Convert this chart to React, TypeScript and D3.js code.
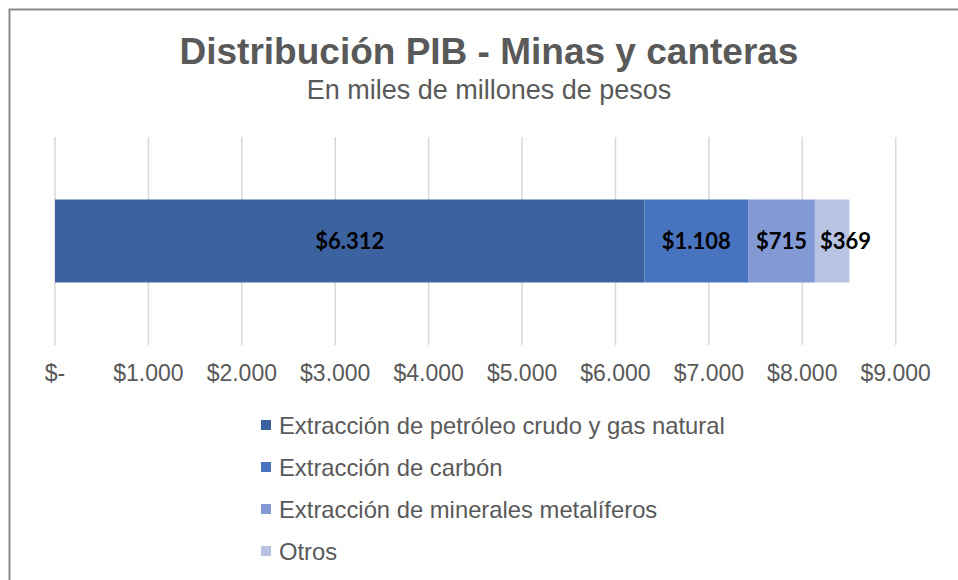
import React from "react";
import * as d3 from "d3";

const title = "Distribución PIB - Minas y canteras";
const subtitle = "En miles de millones de pesos";
const categories = [
  "Extracción de petróleo crudo y gas natural",
  "Extracción de carbón",
  "Extracción de minerales metalíferos",
  "Otros",
];
const values = [6312, 1108, 715, 369];
const colors = ["#3C62A0", "#4874BF", "#8299D3", "#B8C3E4"];
const ticks = [0, 1000, 2000, 3000, 4000, 5000, 6000, 7000, 8000, 9000];

const W = 958;
const H = 580;

const fmtNum = (v: number) => d3.format(",")(v).replace(/,/g, ".");
const tickFmt = (v: number) => (v === 0 ? "$-" : "$" + fmtNum(v));

export default function App() {
  const x = d3.scaleLinear().domain([0, 9000]).range([55, 895.7]);
  const y = d3.scaleBand().domain(["PIB"]).range([137, 345]).paddingInner(0).paddingOuter(0.753);
  const bandY = y("PIB") as number;
  const bh = y.bandwidth();
  const stacks: { start: number; end: number; v: number; c: string }[] = [];
  let acc = 0;
  values.forEach((v, i) => {
    stacks.push({ start: acc, end: acc + v, v, c: colors[i] });
    acc += v;
  });
  const labelFont = "Lato, 'Open Sans', sans-serif";
  return (
    <svg
      width={W}
      height={H}
      style={{ position: "absolute", left: 0, top: 0, background: "#fff" }}
      fontFamily="'Liberation Sans', Arial, sans-serif"
    >
      <rect x={0} y={0} width={W} height={H} fill="#fff" />
      <path d={`M9.5,${H} L9.5,9.5 L${W},9.5`} fill="none" stroke="#8a8a8a" strokeWidth={2} />
      <text x={489} y={64} textAnchor="middle" fontSize={37} fontWeight="bold" fill="#595959">
        {title}
      </text>
      <text x={489} y={99} textAnchor="middle" fontSize={27} fill="#595959">
        {subtitle}
      </text>
      {ticks.map((t) => (
        <line key={"g" + t} x1={x(t)} x2={x(t)} y1={137} y2={345} stroke="#d9d9d9" strokeWidth={1.5} />
      ))}
      {stacks.map((s, i) => (
        <rect key={"b" + i} x={x(s.start)} y={bandY} width={x(s.end) - x(s.start)} height={bh} fill={s.c} />
      ))}
      {stacks.map((s, i) => {
        const segW = x(s.end) - x(s.start);
        const label = "$" + fmtNum(s.v);
        const estW = label.length * 12;
        const fits = estW + 6 < segW;
        return (
          <text
            key={"l" + i}
            x={fits ? (x(s.start) + x(s.end)) / 2 : x(s.start) + 5}
            y={bandY + bh / 2 + 8}
            textAnchor={fits ? "middle" : "start"}
            fontSize={22}
            fontWeight="bold"
            fontFamily={labelFont}
            fill="#000"
          >
            {label}
          </text>
        );
      })}
      {ticks.map((t) => (
        <text key={"t" + t} x={x(t)} y={381} textAnchor="middle" fontSize={23} fill="#595959">
          {tickFmt(t)}
        </text>
      ))}
      {categories.map((c, i) => {
        const cy = 425 + i * 42;
        return (
          <g key={"lg" + i}>
            <rect x={261} y={cy - 5} width={10} height={10} fill={colors[i]} />
            <text x={279} y={cy + 8.5} fontSize={23.8} fill="#595959">
              {c}
            </text>
          </g>
        );
      })}
    </svg>
  );
}
